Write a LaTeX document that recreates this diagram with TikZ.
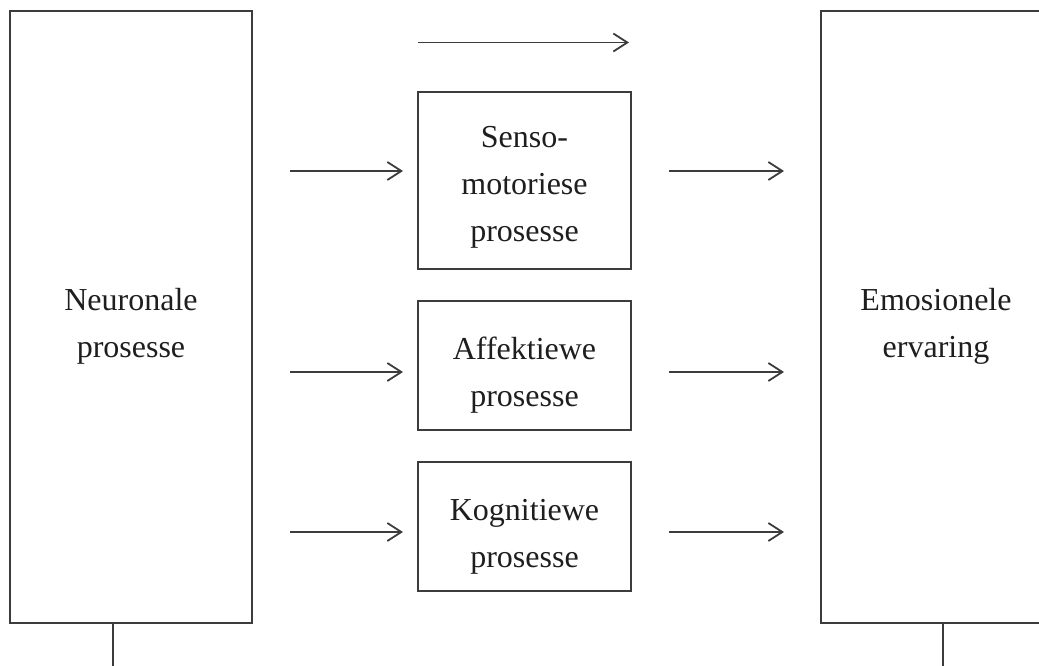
\documentclass[tikz,border=0pt]{standalone}
\usepackage{fontspec}
\setmainfont{Liberation Serif}
\usetikzlibrary{arrows.meta}
\definecolor{linecol}{HTML}{3C3C3C}
\definecolor{textcol}{HTML}{1E1E1E}
\tikzset{
  box/.style={draw=linecol, line width=1.8pt, fill=none, inner sep=0pt},
  lbl/.style={inner sep=0pt, align=center, text=textcol,
    font=\fontsize{32}{47}\selectfont},
  flow/.style={draw=linecol, line width=1.8pt,
    -{Straight Barb[length=14pt,width=18pt,line width=1.8pt]}},
  stem/.style={draw=linecol, line width=1.6pt}
}
\begin{document}
\begin{tikzpicture}[x=1pt,y=-1pt]
\useasboundingbox (0,0) rectangle (1039,666);
\begin{scope}
\clip (0,0) rectangle (1039,666);
% big boxes
\node[box, minimum width=242pt, minimum height=612pt] (neuro) at (131,317) {};
\node[box, minimum width=230pt, minimum height=612pt] (emo) at (936,317) {};
\node[lbl] (neuro-t) at ([yshift=-9pt]neuro.center) {Neuronale\\prosesse};
\node[lbl] (emo-t) at ([yshift=-9pt]emo.center) {Emosionele\\ervaring};
% middle boxes
\node[box, minimum width=213pt, minimum height=177pt] (senso) at (524.5,180.5) {};
\node[box, minimum width=213pt, minimum height=129pt] (affek) at (524.5,365.5) {};
\node[box, minimum width=213pt, minimum height=129pt] (kogn) at (524.5,526.5) {};
\node[lbl] (senso-t) at ([yshift=-7pt]senso.center) {Senso-\\motoriese\\prosesse};
\node[lbl] (affek-t) at ([yshift=-10pt]affek.center) {Affektiewe\\prosesse};
\node[lbl] (kogn-t) at ([yshift=-10pt]kogn.center) {Kognitiewe\\prosesse};
% arrow end points
\coordinate (t0) at (418,42.5);  \coordinate (t1) at (629,42.5);
\coordinate (l1a) at (290,171);  \coordinate (l1b) at (403,171);
\coordinate (l2a) at (290,372);  \coordinate (l2b) at (403,372);
\coordinate (l3a) at (290,532);  \coordinate (l3b) at (403,532);
\coordinate (r1a) at (669,171);  \coordinate (r1b) at (784,171);
\coordinate (r2a) at (669,372);  \coordinate (r2b) at (784,372);
\coordinate (r3a) at (669,532);  \coordinate (r3b) at (784,532);
\draw[flow] (t0) -- (t1);
\draw[flow] (l1a) -- (l1b);
\draw[flow] (l2a) -- (l2b);
\draw[flow] (l3a) -- (l3b);
\draw[flow] (r1a) -- (r1b);
\draw[flow] (r2a) -- (r2b);
\draw[flow] (r3a) -- (r3b);
% stems below
\coordinate (ls) at (113,670);
\coordinate (rs) at (943,670);
\draw[stem] (neuro.south -| ls) -- (ls);
\draw[stem] (emo.south -| rs) -- (rs);
\end{scope}
\end{tikzpicture}
\end{document}
